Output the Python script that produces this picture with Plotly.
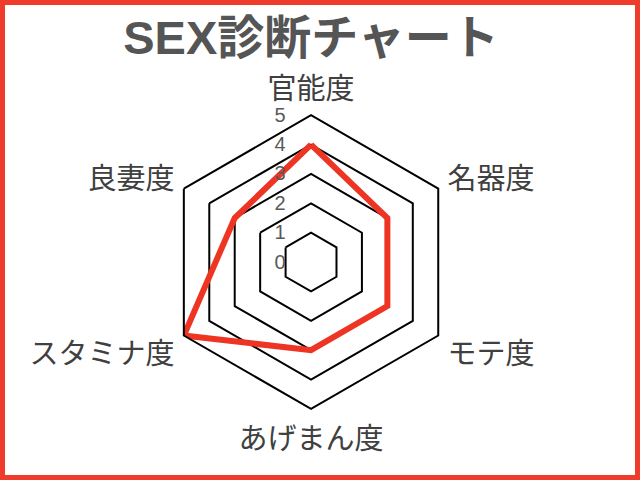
import plotly.graph_objects as go

# 診断項目と点数
categories = ["官能度", "名器度", "モテ度", "あげまん度", "スタミナ度", "良妻度"]
scores = [4, 3, 3, 3, 5, 3]
tick_vals = [0, 1, 2, 3, 4, 5]

jp_font = "Noto Sans CJK JP"

fig = go.Figure()
fig.add_trace(go.Scatterpolar(
    r=scores + scores[:1],
    theta=categories + categories[:1],
    mode="lines",
    line=dict(color="#ee3524", width=6),
    hoverinfo="skip",
))

fig.update_layout(
    width=640,
    height=480,
    margin=dict(l=0, r=0, t=0, b=0),
    paper_bgcolor="white",
    plot_bgcolor="white",
    showlegend=False,
    title=dict(
        text="<b>SEX診断チャート</b>",
        x=0.486,
        xanchor="center",
        y=0.922,
        yanchor="middle",
        font=dict(family="Liberation Sans, " + jp_font, size=47, color="#555555"),
    ),
    polar=dict(
        domain=dict(x=[0.256, 0.716], y=[0.148, 0.760]),
        gridshape="linear",
        bgcolor="white",
        radialaxis=dict(
            range=[0, 5],
            tickvals=tick_vals,
            angle=90,
            tickangle=90,
            showline=False,
            showgrid=True,
            gridcolor="black",
            gridwidth=2,
            ticks="outside",
            ticklen=18,
            tickcolor="rgba(0,0,0,0)",
            tickfont=dict(family="Liberation Sans", size=20, color="#595959"),
            side="counterclockwise",
        ),
        angularaxis=dict(
            rotation=90,
            direction="clockwise",
            showline=True,
            linecolor="black",
            linewidth=2,
            showgrid=False,
            ticks="outside",
            ticklen=4,
            tickcolor="rgba(0,0,0,0)",
            tickfont=dict(family=jp_font, size=29, color="#404040"),
        ),
    ),
    shapes=[dict(
        type="rect", xref="paper", yref="paper",
        x0=0, y0=0, x1=1, y1=1,
        line=dict(color="#ee3b2b", width=10),
    )],
)

# ページの余白を消して枠線を端に合わせる
fig.write_html(
    "out.html",
    config={"displayModeBar": False},
    post_script="document.body.style.margin='0';",
)
